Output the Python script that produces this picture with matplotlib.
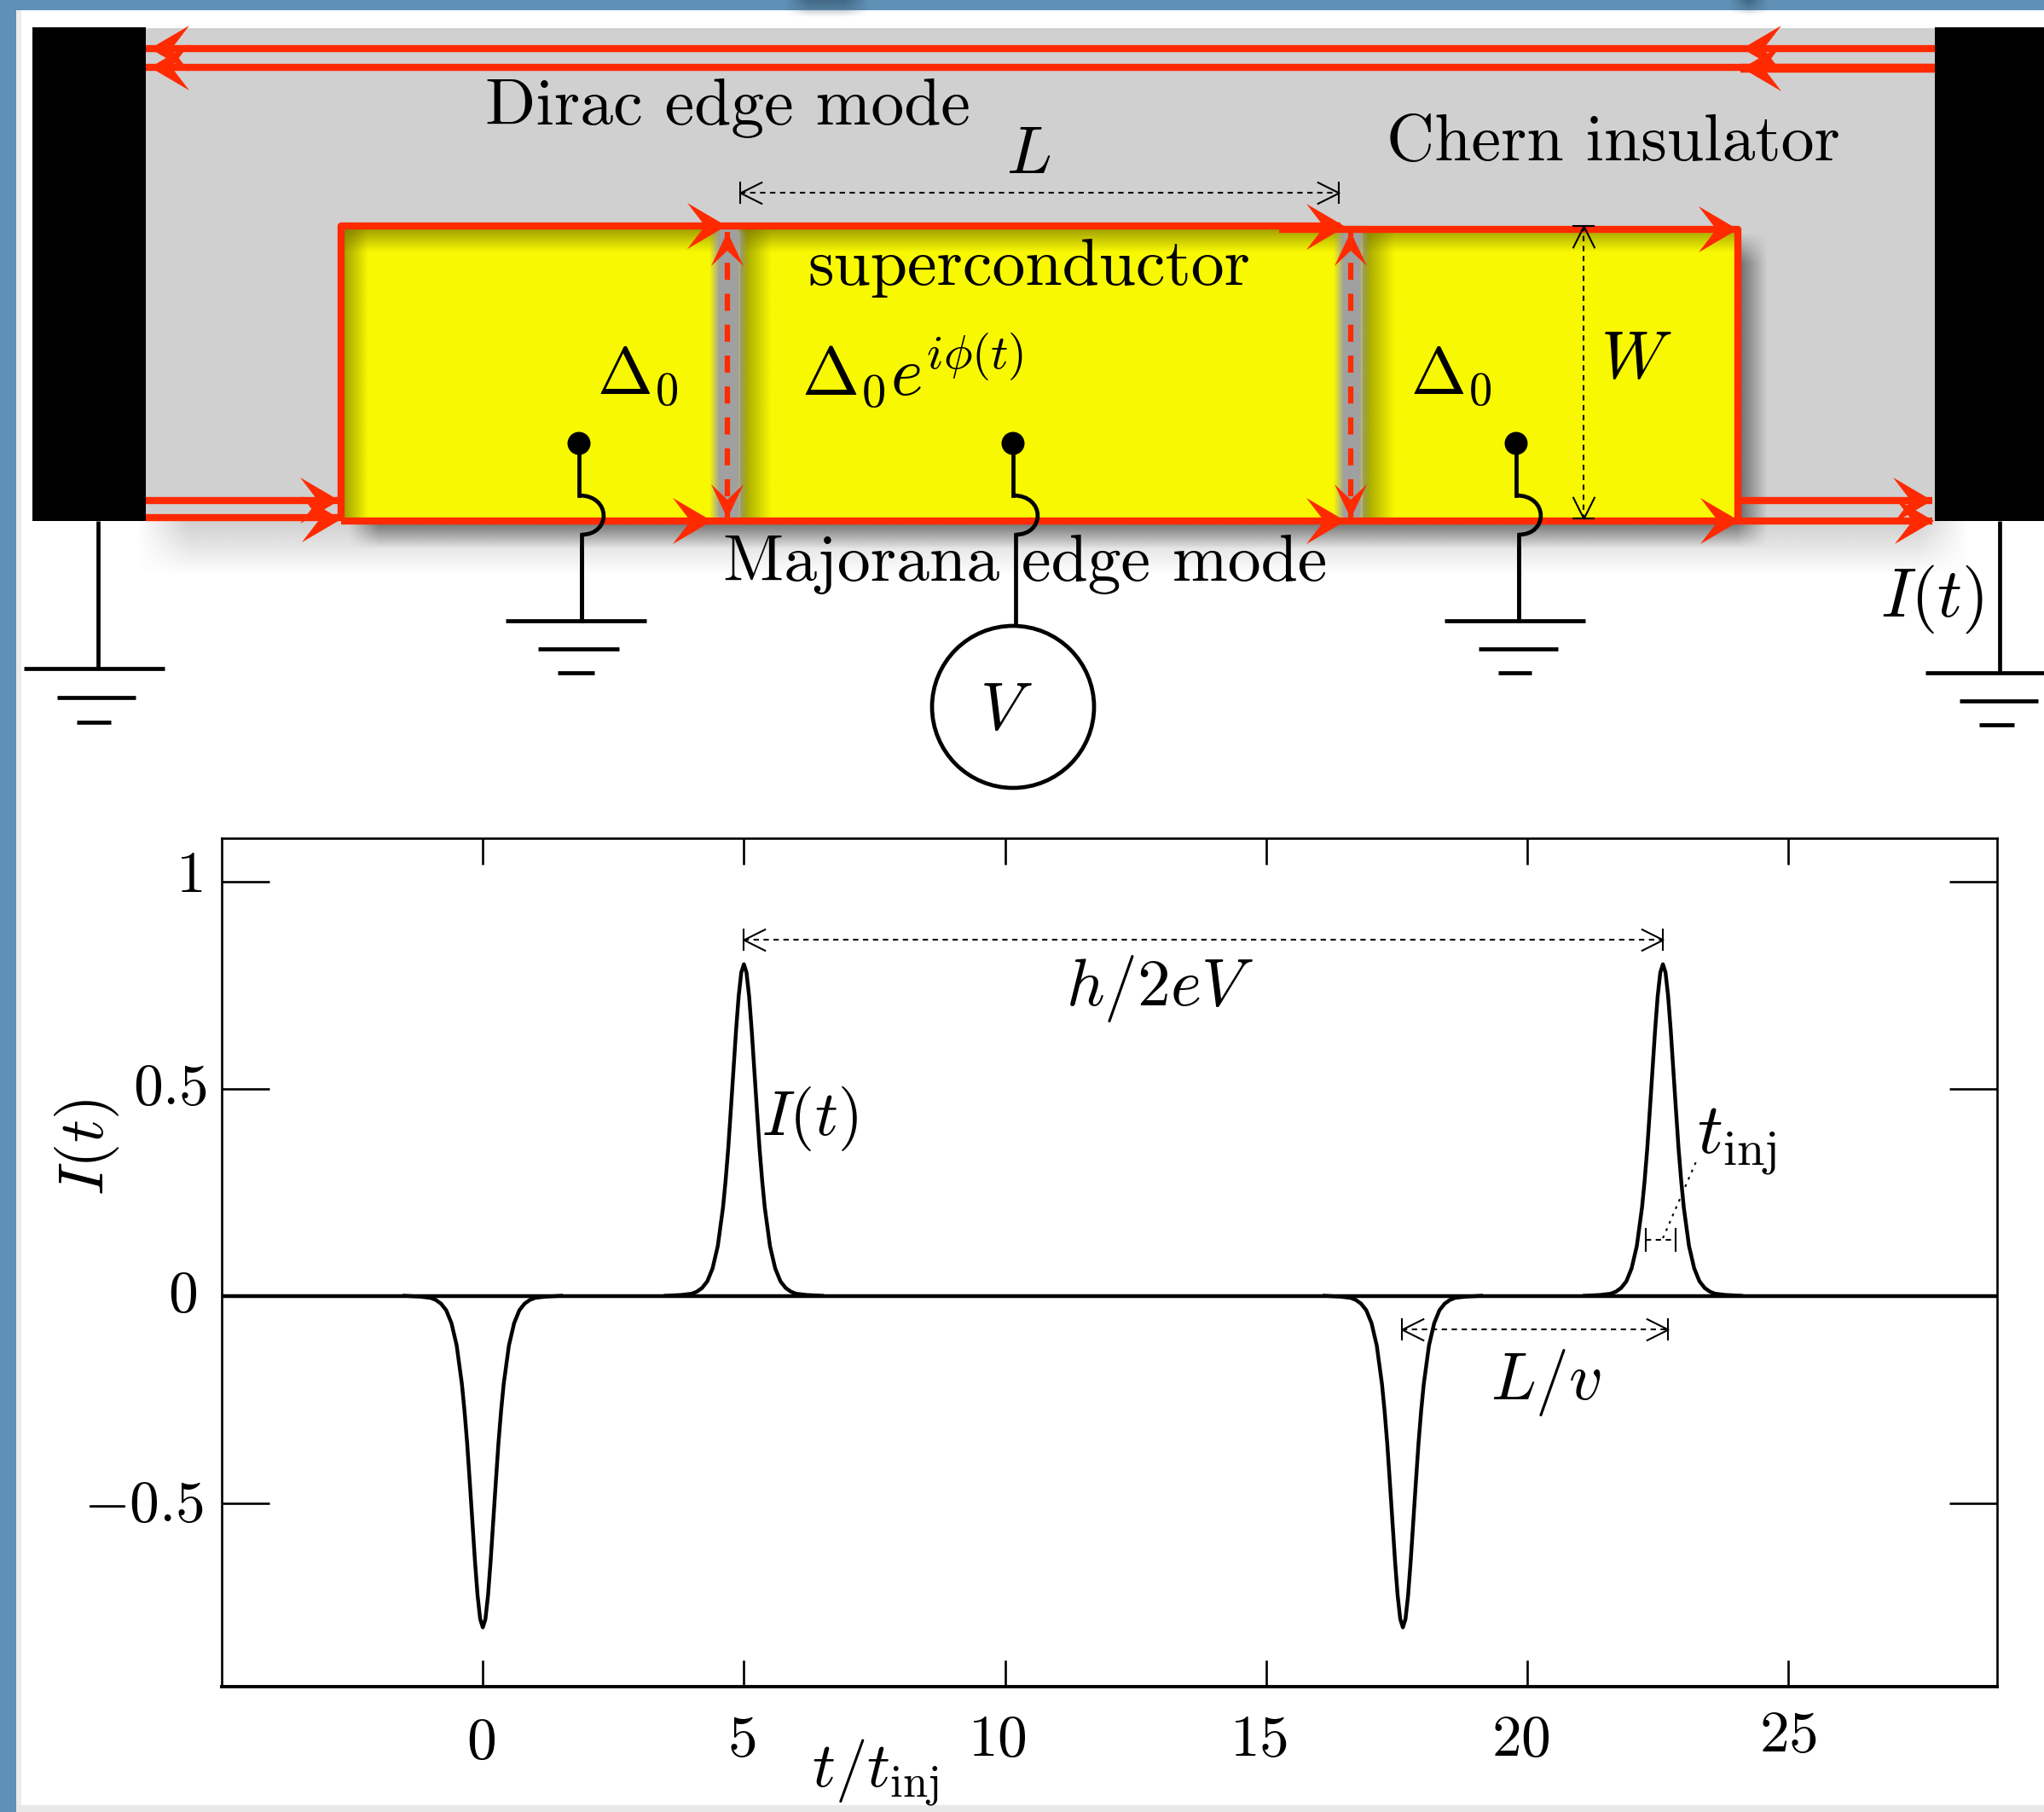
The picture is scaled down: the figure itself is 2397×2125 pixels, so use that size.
import numpy as np
import matplotlib
matplotlib.use('Agg')
import matplotlib.pyplot as plt
from matplotlib.colors import to_rgb
from matplotlib.patches import Rectangle, Circle, Polygon, PathPatch
from matplotlib.path import Path
from matplotlib.transforms import Affine2D, ScaledTranslation

plt.rcParams['mathtext.fontset'] = 'cm'
plt.rcParams['font.family'] = 'cmr10'
plt.rcParams['axes.unicode_minus'] = False

W_PX, H_PX = 2397, 2125

# pulse readings
t_base = [-5, 29]
i_base = [0, 0]
t_p0 = [-1.5, -1.2, -1.0, -0.9, -0.8, -0.7, -0.6, -0.5, -0.4, -0.35, -0.3, -0.25, -0.2, -0.15, -0.1, -0.05, 0,
        0.05, 0.1, 0.15, 0.2, 0.25, 0.3, 0.35, 0.4, 0.5, 0.6, 0.7, 0.8, 0.9, 1.0, 1.2, 1.5]
i_p0 = [0, -0.002, -0.005, -0.01, -0.019, -0.035, -0.066, -0.12, -0.213, -0.278, -0.355, -0.448, -0.544, -0.64, -0.723, -0.78, -0.8,
        -0.78, -0.723, -0.64, -0.544, -0.448, -0.355, -0.278, -0.213, -0.12, -0.066, -0.035, -0.019, -0.01, -0.005, -0.002, 0]
t_p1 = [3.5, 3.8, 4.0, 4.1, 4.2, 4.3, 4.4, 4.5, 4.6, 4.65, 4.7, 4.75, 4.8, 4.85, 4.9, 4.95, 5.0,
        5.05, 5.1, 5.15, 5.2, 5.25, 5.3, 5.35, 5.4, 5.5, 5.6, 5.7, 5.8, 5.9, 6.0, 6.2, 6.5]
i_p1 = [0, 0.002, 0.005, 0.01, 0.019, 0.035, 0.066, 0.12, 0.213, 0.278, 0.355, 0.448, 0.544, 0.64, 0.723, 0.78, 0.8,
        0.78, 0.723, 0.64, 0.544, 0.448, 0.355, 0.278, 0.213, 0.12, 0.066, 0.035, 0.019, 0.01, 0.005, 0.002, 0]
t_p2 = [16.12, 16.42, 16.62, 16.72, 16.82, 16.92, 17.02, 17.12, 17.22, 17.27, 17.32, 17.37, 17.42, 17.47, 17.52, 17.57, 17.62,
        17.67, 17.72, 17.77, 17.82, 17.87, 17.92, 17.97, 18.02, 18.12, 18.22, 18.32, 18.42, 18.52, 18.62, 18.82, 19.12]
i_p2 = [0, -0.002, -0.005, -0.01, -0.019, -0.035, -0.066, -0.12, -0.213, -0.278, -0.355, -0.448, -0.544, -0.64, -0.723, -0.78, -0.8,
        -0.78, -0.723, -0.64, -0.544, -0.448, -0.355, -0.278, -0.213, -0.12, -0.066, -0.035, -0.019, -0.01, -0.005, -0.002, 0]
t_p3 = [21.1, 21.4, 21.6, 21.7, 21.8, 21.9, 22.0, 22.1, 22.2, 22.25, 22.3, 22.35, 22.4, 22.45, 22.5, 22.55, 22.6,
        22.65, 22.7, 22.75, 22.8, 22.85, 22.9, 22.95, 23.0, 23.1, 23.2, 23.3, 23.4, 23.5, 23.6, 23.8, 24.1]
i_p3 = [0, 0.002, 0.005, 0.01, 0.019, 0.035, 0.066, 0.12, 0.213, 0.278, 0.355, 0.448, 0.544, 0.64, 0.723, 0.78, 0.8,
        0.78, 0.723, 0.64, 0.544, 0.448, 0.355, 0.278, 0.213, 0.12, 0.066, 0.035, 0.019, 0.01, 0.005, 0.002, 0]

x_ticks = [0, 5, 10, 15, 20, 25]
x_labels = ['$0$', '$5$', '$10$', '$15$', '$20$', '$25$']
y_ticks = [-0.5, 0, 0.5, 1]
y_labels = ['$-0.5$', '$0$', '$0.5$', '$1$']

RED = '#ff2a00'
YELLOW = '#f8f803'
GREY = '#d0d0d0'
BLUE = '#6090b5'


def soft_rect(ax, x0, y0, x1, y1, blur, color, alpha, z):
    # rectangle with blurred edges, used for the drop shadows
    xs = np.linspace(x0 - blur, x1 + blur, 600)
    ys = np.linspace(y0 - blur, y1 + blur, 300)
    fx = np.clip((xs - x0 + blur) / (2 * blur), 0, 1) * np.clip((x1 + blur - xs) / (2 * blur), 0, 1)
    fy = np.clip((ys - y0 + blur) / (2 * blur), 0, 1) * np.clip((y1 + blur - ys) / (2 * blur), 0, 1)
    img = np.zeros((len(ys), len(xs), 4))
    img[..., :3] = to_rgb(color)
    img[..., 3] = alpha * fy[:, None] * fx[None, :]
    ax.imshow(img, extent=(x0 - blur, x1 + blur, y1 + blur, y0 - blur), aspect='auto',
              interpolation='bilinear', zorder=z)


def fade(ax, x0, y0, x1, y1, side, color, alpha, z):
    # gradient strip, strong on one side and gone on the other
    ramp = np.linspace(alpha, 0, 64)
    img = np.zeros((64, 64, 4))
    img[..., :3] = to_rgb(color)
    if side == 'left':
        img[..., 3] = ramp[None, :]
    else:
        img[..., 3] = ramp[:, None]
    ax.imshow(img, extent=(x0, x1, y1, y0), aspect='auto', interpolation='bilinear', zorder=z)


def red_head(ax, x, y, d=(1, 0), length=46, half=27):
    # swept red arrow head, tip at x,y
    dx, dy = d
    nx, ny = -dy, dx
    pts = [(x, y),
           (x - dx * length + nx * half, y - dy * length + ny * half),
           (x - dx * length * 0.55, y - dy * length * 0.55),
           (x - dx * length - nx * half, y - dy * length - ny * half)]
    ax.add_patch(Polygon(pts, closed=True, fc=RED, ec='none', zorder=7))


def red_line(ax, xs, ys, lw=6, **kw):
    ax.plot(xs, ys, color=RED, lw=lw, solid_capstyle='butt', zorder=6, **kw)


chev = Path([(-2, 1), (0, 0), (-2, -1)], [Path.MOVETO, Path.LINETO, Path.LINETO])
rot = {'r': 0, 'u': 90, 'l': 180, 'd': 270}


def chevron(d):
    return chev.transformed(Affine2D().rotate_deg(rot[d]))


def dim_arrow(ax, p0, p1, vertical=False, lw=1.5):
    # dotted dimension arrow with bar and open head at both ends
    ax.plot([p0[0], p1[0]], [p0[1], p1[1]], color='black', lw=lw, ls=(0, (3, 2.6)), zorder=8)
    bar = '_' if vertical else '|'
    d0, d1 = ('u', 'd') if vertical else ('l', 'r')
    for p, d in ((p0, d0), (p1, d1)):
        ax.plot([p[0]], [p[1]], marker=bar, ms=19, mew=lw, color='black', zorder=8)
        ax.plot([p[0]], [p[1]], marker=chevron(d), ms=37, mew=lw, mfc='none', mec='black', zorder=8)


def ground(ax, x, y_top, y_bars, bars):
    ax.plot([x, x], [y_top, y_bars[0]], color='black', lw=3.4, zorder=7, solid_capstyle='butt')
    for yb, (a, b) in zip(y_bars, bars):
        ax.plot([a, b], [yb, yb], color='black', lw=3.4, zorder=7, solid_capstyle='butt')


def contact(ax, x, y_dot, y_bump, y_end):
    # lead with its dot and the little hop over the edge channel
    ax.add_patch(Circle((x, y_dot), 13.5, fc='black', ec='none', zorder=8))
    ax.plot([x, x], [y_dot, y_bump], color='black', lw=3.4, zorder=8)
    bump = Path([(x, y_bump), (x + 38, y_bump), (x + 38, y_bump + 46), (x + 3, y_bump + 46)],
                [Path.MOVETO, Path.CURVE4, Path.CURVE4, Path.CURVE4])
    ax.add_patch(PathPatch(bump, fc='none', ec='black', lw=3.4, zorder=8))
    ax.plot([x + 3, x + 3], [y_bump + 46, y_end], color='black', lw=3.4, zorder=8)


fig = plt.figure(figsize=(W_PX / 100, H_PX / 100), dpi=100, facecolor='white')

# top layer of the figure works in reference pixels
sk = fig.add_axes([0, 0, 1, 1])
sk.set_autoscale_on(False)
sk.set_xlim(0, W_PX)
sk.set_ylim(H_PX, 0)
sk.axis('off')

# page background around the figure
sk.add_patch(Rectangle((0, 0), 19, H_PX, fc=BLUE, ec='none', zorder=0.2))
sk.add_patch(Rectangle((0, 0), W_PX, 12, fc=BLUE, ec='none', zorder=0.2))
sk.add_patch(Rectangle((19, 12), 6, H_PX, fc='#ececec', ec='none', zorder=0.2))
sk.add_patch(Rectangle((19, H_PX - 8), W_PX, 8, fc='#e8e8e8', ec='none', zorder=0.2))
soft_rect(sk, 935, -12, 1005, 6, 14, '#2f4f66', 0.9, 0.3)
soft_rect(sk, 2040, -12, 2062, 6, 12, '#2f4f66', 0.9, 0.3)

# chern insulator sheet and shadows
soft_rect(sk, 190, 60, 2280, 645, 30, '#b8b8b8', 0.65, 0.5)
sk.add_patch(Rectangle((171, 33), 2098, 578, fc=GREY, ec='none', zorder=1))
soft_rect(sk, 425, 290, 2056, 626, 18, '#505050', 0.85, 2)

# superconductor
sk.add_patch(Rectangle((400, 266), 1638, 345, fc=YELLOW, ec='none', zorder=3))
fade(sk, 400, 268, 2038, 296, 'top', '#707000', 0.65, 4)
fade(sk, 403, 268, 432, 611, 'left', '#707000', 0.65, 4)
fade(sk, 868, 268, 905, 611, 'left', '#707000', 0.7, 4)
fade(sk, 1598, 268, 1636, 611, 'left', '#707000', 0.7, 4)
for gx0, gx1 in ((838, 871), (1570, 1600)):
    soft_rect(sk, gx0, 268, gx1, 611, 6, '#9e9e9e', 1, 5)
    sk.add_patch(Rectangle((gx0 + 6, 268), gx1 - gx0 - 12, 343, fc='#a0a0a0', ec='none', zorder=5))

# black contacts
sk.add_patch(Rectangle((38, 32), 133, 579, fc='black', ec='none', zorder=6.5))
sk.add_patch(Rectangle((2269, 32), 128, 579, fc='black', ec='none', zorder=6.5))

# red edge channels
red_line(sk, [171, 2269], [57, 57])
red_line(sk, [171, 2269], [79, 79])
red_line(sk, [2041, 2269], [80, 80], lw=7.5)
for x, y in ((176, 57), (176, 79), (2043, 57), (2043, 80)):
    red_head(sk, x, y, (-1, 0))
red_line(sk, [171, 400], [587, 587])
red_line(sk, [171, 400], [607, 607])
red_head(sk, 398, 587)
red_head(sk, 400, 609)
red_line(sk, [400, 400, 1572], [611, 265, 265])
red_line(sk, [1500, 2038, 2038], [269, 269, 611], )
red_line(sk, [400, 2038], [611, 611])
red_line(sk, [2038, 2266], [587, 587])
red_line(sk, [2038, 2266], [611, 611])
for x, y in ((852, 265), (1578, 266), (2038, 269), (835, 611), (1578, 611), (2040, 611), (2266, 587), (2268, 611)):
    red_head(sk, x, y)
for x in (853, 1584):
    red_line(sk, [x, x], [272, 608], lw=4.5, ls=(0, (3.2, 2.6)))
    red_head(sk, x, 272, (0, -1), length=40, half=19)
    red_head(sk, x, 608, (0, 1), length=40, half=19)

# dimension arrows on the device
dim_arrow(sk, (868, 226), (1570, 226))
dim_arrow(sk, (1857, 265), (1857, 608), vertical=True)

# leads and grounds
contact(sk, 679, 520, 581, 728)
contact(sk, 1188, 520, 581, 737)
contact(sk, 1778, 520, 581, 728)
bar_y = [728, 761, 789]
ground(sk, 682, 640, bar_y, [(593, 758), (631, 726), (654, 697)])
ground(sk, 1781, 640, bar_y, [(1694, 1859), (1734, 1827), (1757, 1796)])
ground(sk, 115, 611, [784, 818, 847], [(28, 193), (67, 159), (90, 130)])
ground(sk, 2345, 611, [789, 822, 850], [(2258, 2397), (2298, 2390), (2321, 2362)])
sk.add_patch(Circle((1188, 829), 95, fc='white', ec='black', lw=3.4, zorder=8))

# device labels
for x, y, s, fs in ((569, 146, 'Dirac edge mode', 56),
                    (1626, 188, 'Chern insulator', 56),
                    (947, 334, 'superconductor', 56),
                    (848, 681, 'Majorana edge mode', 56),
                    (1180, 203, '$L$', 56),
                    (700, 462, r'$\Delta_0$', 56),
                    (940, 463, r'$\Delta_0 e^{i\phi(t)}$', 58),
                    (1654, 462, r'$\Delta_0$', 56),
                    (1877, 443, '$W$', 56),
                    (2205, 723, '$I(t)$', 58),
                    (1149, 855, '$V$', 56)):
    sk.text(x, y, s, fontsize=fs, ha='left', va='baseline', zorder=9)

# current trace
ax = fig.add_axes([260 / W_PX, 1 - 1978 / H_PX, (2342 - 260) / W_PX, (1978 - 983) / H_PX], facecolor='none')
ax.plot(t_base, i_base, color='black', lw=3.2)
for t, i in ((t_p0, i_p0), (t_p1, i_p1), (t_p2, i_p2), (t_p3, i_p3)):
    ax.plot(t, i, color='black', lw=3.2)
ax.set_xlim(-5, 29)
ax.set_ylim(-0.943, 1.104)
ax.set_xticks(x_ticks)
ax.set_xticklabels(x_labels, fontsize=50)
ax.set_yticks(y_ticks)
ax.set_yticklabels(y_labels, fontsize=50)
ax.tick_params(axis='x', direction='in', top=True, bottom=True, length=22, width=1.9, pad=26)
ax.tick_params(axis='y', direction='in', left=True, right=True, length=40, width=1.9, pad=12)
for s in ax.spines.values():
    s.set_linewidth(1.9)
ax.spines['bottom'].set_linewidth(2.8)

# tick labels in the reference sit a little off their ticks (offsets in px)
x_nudge = [(-2, 0), (-3, 3), (-9, 3), (-9, 3), (-8, 3), (0, 8)]
y_nudge = [(-4, 3), (-12, 6), (0, 6), (-6, 12)]
for lbl, (dx, dy) in zip(ax.get_xticklabels(), x_nudge):
    lbl.set_transform(lbl.get_transform() + ScaledTranslation(dx / 100, dy / 100, fig.dpi_scale_trans))
for lbl, (dx, dy) in zip(ax.get_yticklabels(), y_nudge):
    lbl.set_transform(lbl.get_transform() + ScaledTranslation(dx / 100, dy / 100, fig.dpi_scale_trans))

ax.set_xlabel(r'$t/t_{\mathrm{inj}}$', fontsize=54, va='baseline')
ax.xaxis.set_label_coords(0.368, -0.117)
ax.set_ylabel('$I(t)$', fontsize=54, va='center')
ax.yaxis.set_label_coords(-0.076, 0.636)

dim_arrow(ax, (5.0, 0.86), (22.6, 0.86))
dim_arrow(ax, (17.6, -0.08), (22.7, -0.08))
ax.plot([22.27, 22.85], [0.135, 0.135], color='black', lw=1.5, ls=(0, (3, 2.6)))
ax.plot([22.27, 22.85], [0.135, 0.135], ls='none', marker='|', ms=20, mew=1.5, color='black')
ax.plot([22.6, 23.25], [0.139, 0.328], color='black', lw=1.5, ls=(0, (1.5, 3)))
ax.text(12.96, 0.70, '$h/2eV$', fontsize=56, ha='center', va='baseline')
ax.text(5.33, 0.388, '$I(t)$', fontsize=54, ha='left', va='baseline')
ax.text(23.25, 0.345, r'$t_{\mathrm{inj}}$', fontsize=60, ha='left', va='baseline')
ax.text(20.37, -0.25, '$L/v$', fontsize=56, ha='center', va='baseline')

fig.savefig('out.png', dpi=100)
